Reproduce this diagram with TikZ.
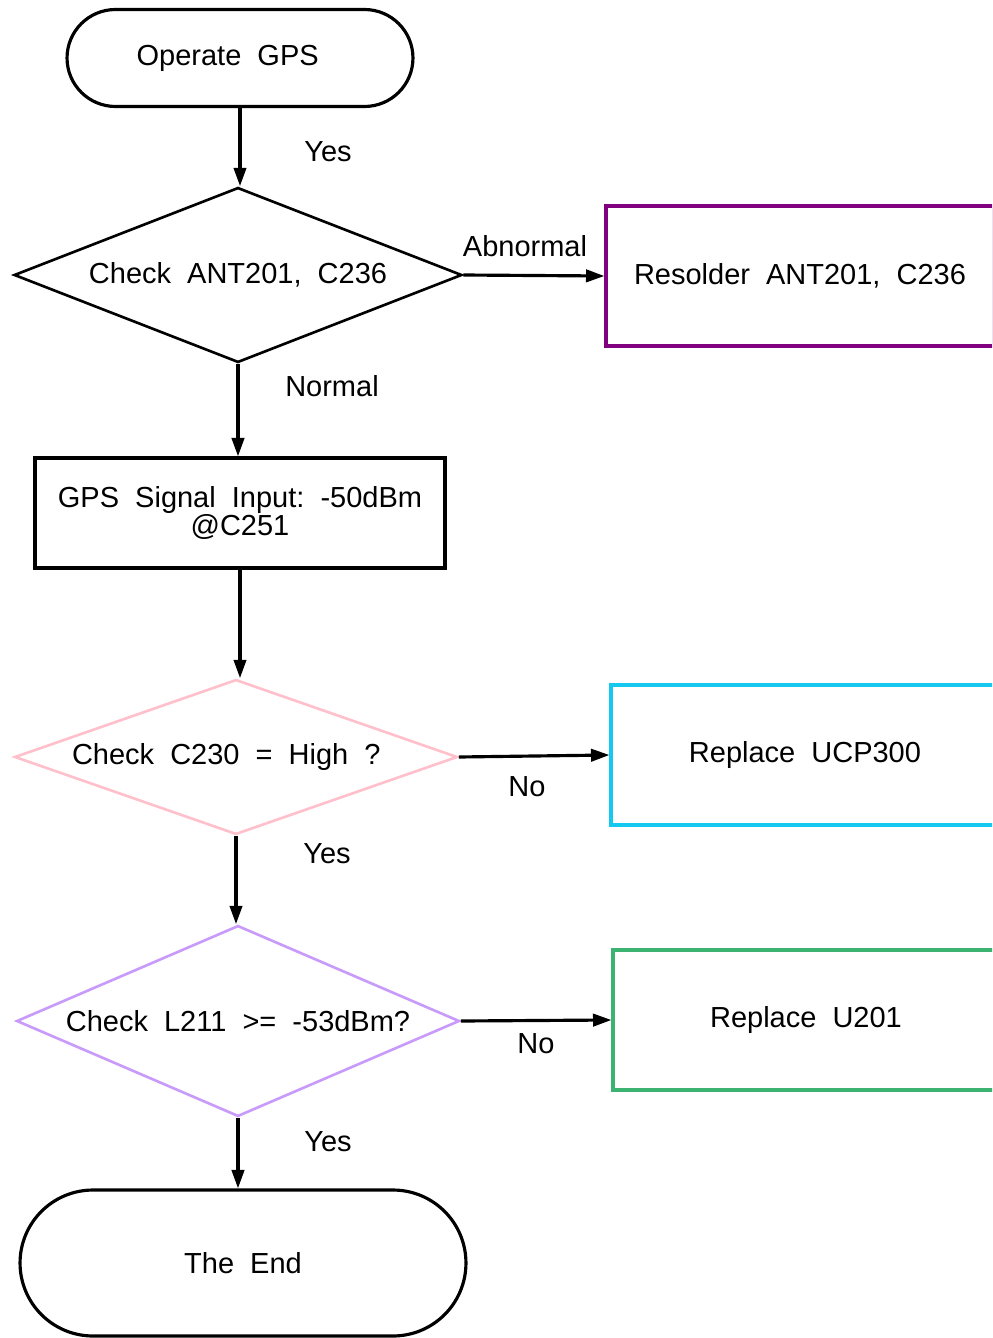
\documentclass[tikz,border=0pt]{standalone}
\usepackage{fontspec}
\setmainfont{Liberation Sans}
\usetikzlibrary{arrows.meta,shapes.geometric,shapes.misc}
\definecolor{FramePurple}{HTML}{800080}
\definecolor{FramePink}{HTML}{FFC0CB}
\definecolor{FrameCyan}{HTML}{14C8F0}
\definecolor{FrameLavender}{HTML}{C89BFA}
\definecolor{FrameGreen}{HTML}{3CB371}

\begin{document}
\begin{tikzpicture}[x=0.02cm, y=-0.02cm, >={Triangle[length=10.5pt,width=7pt]},
  font=\fontsize{16.5}{16.5}\selectfont,
  terminal/.style={draw, line width=1.8pt, rounded rectangle, inner sep=0pt},
  decision/.style={draw, line width=1.5pt, diamond, inner sep=0pt},
  process/.style={draw, line width=1.8pt, rectangle, inner sep=0pt, align=center},
  flow/.style={->, line width=1.8pt},
  lbl/.style={inner sep=0pt}]
  \useasboundingbox (0,0) rectangle (992,1338);
  \clip (0,0) rectangle (992,1338);

  % main column
  \node[terminal, minimum width=6.92cm, minimum height=1.94cm] (start) at (240,58) {Operate~~GPS\hspace*{14pt}};
  \node[decision, aspect=2.56, minimum width=8.96cm, minimum height=3.5cm] (chkant) at (238,275) {Check~~ANT201,~~C236};
  \node[process, minimum width=8.2cm, minimum height=2.2cm] (gpsin) at (240,513)
    {GPS~~Signal~~Input:~~-50dBm\\@C251};
  \node[decision, draw=FramePink, aspect=2.86, minimum width=8.86cm, minimum height=3.1cm] (chkhigh) at (236,757) {Check~~C230~~=~~High~~?\hspace*{11pt}};
  \node[decision, draw=FrameLavender, aspect=2.32, minimum width=8.86cm, minimum height=3.82cm] (chklvl) at (238,1021) {Check~~L211~~>=~~-53dBm?};
  \node[terminal, minimum width=8.92cm, minimum height=2.92cm] (theend) at (243,1263) {The~~End};

  % fixes on the right
  \node[process, draw=FramePurple, minimum width=7.76cm, minimum height=2.8cm] (resolder) at (800,276) {Resolder~~ANT201,~~C236};
  \node[process, draw=FrameCyan, minimum width=7.76cm, minimum height=2.8cm] (repucp) at (805,755) {Replace~~UCP300};
  \node[process, draw=FrameGreen, minimum width=7.72cm, minimum height=2.8cm] (repu) at (806,1020) {Replace~~U201};

  % connectors
  \draw[flow] (start.south) -- (start.south |- chkant.north);
  \draw[flow] (chkant.east) -- (resolder.west);
  \draw[flow] (chkant.south) -- (chkant.south |- gpsin.north);
  \draw[flow] (gpsin.south) -- (gpsin.south |- chkhigh.north);
  \draw[flow] (chkhigh.east) -- (repucp.west);
  \draw[flow] (chkhigh.south) -- (chkhigh.south |- chklvl.north);
  \draw[flow] (chklvl.east) -- (repu.west);
  \draw[flow] (chklvl.south) -- (chklvl.south |- theend.north);

  \node[lbl] (yes1) at (328,152) {Yes};
  \node[lbl] (abn) at (525,246) {Abnormal};
  \node[lbl] (norm) at (332,386) {Normal};
  \node[lbl] (no1) at (527,787) {No};
  \node[lbl] (yes2) at (327,854) {Yes};
  \node[lbl] (no2) at (536,1044) {No};
  \node[lbl] (yes3) at (328,1142) {Yes};
\end{tikzpicture}
\end{document}
